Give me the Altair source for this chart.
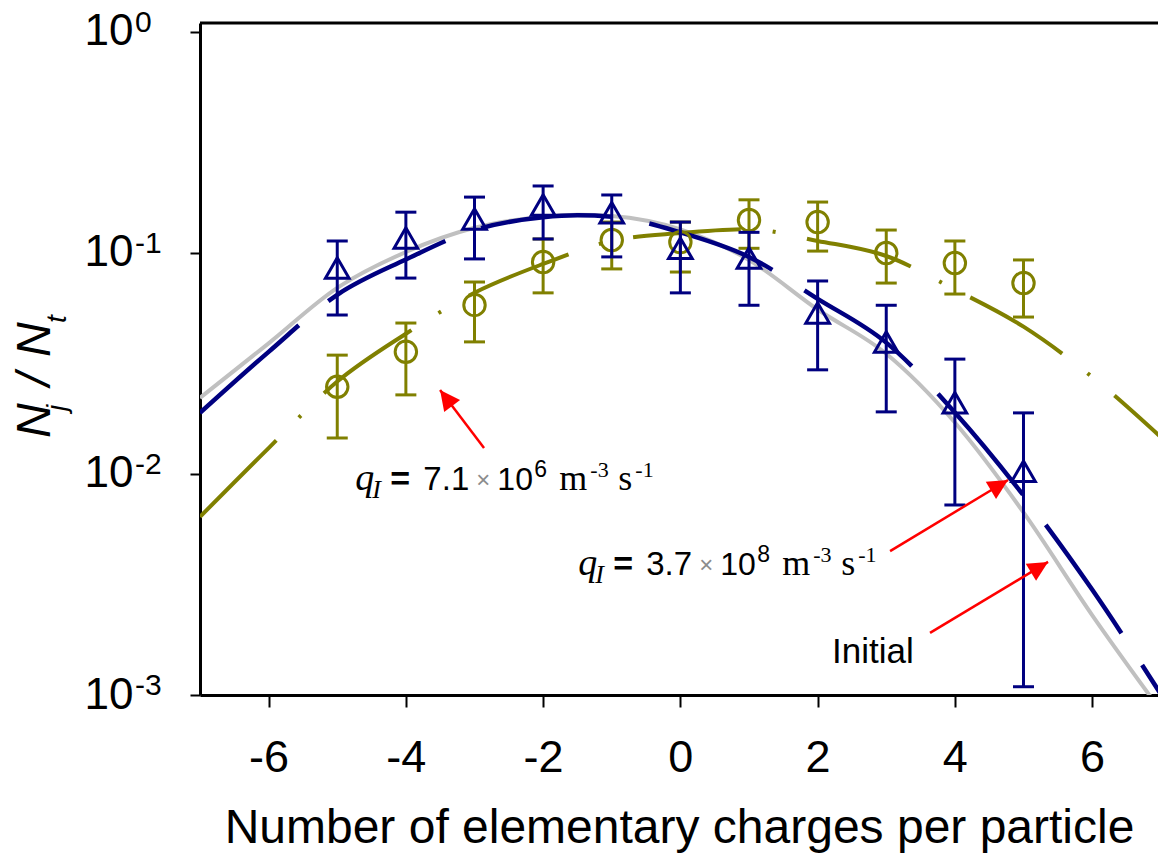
import altair as alt
import pandas as pd

# ---------------- data ----------------
charges = [-5, -4, -3, -2, -1, 0, 1, 2, 3, 4, 5]

# q_I = 3.7e8 (navy triangles)
high_val = [0.0855, 0.117, 0.1425, 0.165, 0.152, 0.105, 0.095, 0.0535, 0.0396, 0.0210, 0.0103]
high_hi = [0.1133, 0.153, 0.179, 0.201, 0.183, 0.138, 0.124, 0.0747, 0.058, 0.0331, 0.0189]
high_lo = [0.0524, 0.077, 0.094, 0.1157, 0.096, 0.066, 0.058, 0.0296, 0.0191, 0.00724, 0.00109]

# q_I = 7.1e6 (olive circles)
low_val = [0.0248, 0.0357, 0.0582, 0.091, 0.1145, 0.112, 0.141, 0.138, 0.100, 0.090, 0.0731]
low_hi = [0.0345, 0.0482, 0.0739, 0.1157, 0.138, 0.138, 0.174, 0.170, 0.127, 0.1133, 0.093]
low_lo = [0.01455, 0.0228, 0.0396, 0.066, 0.0847, 0.082, 0.105, 0.102, 0.0731, 0.0652, 0.0513]

# fitted curves
curve_x = [-7, -6, -5, -4, -3, -2, -1.5, -1, 0, 1, 2, 3, 4, 5, 6, 7]
initial_curve = [0.0221, 0.0390, 0.0695, 0.101, 0.130, 0.146, 0.149, 0.147, 0.128,
                 0.093, 0.0555, 0.0350, 0.0171, 0.0067, 0.0023, 0.00085]
high_curve = [0.0189, 0.0357, 0.0647, 0.0934, 0.127, 0.145, 0.148, 0.146, 0.124,
              0.096, 0.0620, 0.0393, 0.0190, 0.0080, 0.0030, 0.00101]
olive_x = [-7, -6, -5, -4, -3, -2, -1, 0, 1, 2, 3, 4, 5, 6, 7]
low_curve = [0.0064, 0.0131, 0.0262, 0.0431, 0.0661, 0.0892, 0.1135, 0.123, 0.128,
             0.1134, 0.0969, 0.0683, 0.0464, 0.0275, 0.0147]

x_ticks = [-6, -4, -2, 0, 2, 4, 6]
y_ticks = [0.001, 0.01, 0.1, 1]
y_exps = ["-3", "-2", "-1", "0"]

x_title = "Number of elementary charges per particle"

# annotation anchors (data coordinates)
label_x = [-4.736, -1.489]
label_y = [0.008466, 0.00349]
label_mant = ["7.1", "3.7"]
label_exp = ["6", "8"]
initial_x = [2.211]
initial_y = [0.001396]
initial_text = ["Initial"]
arrow_x = [-2.861, 3.056, 3.638]
arrow_y = [0.01312, 0.00448, 0.00191]
arrow_tip_x = [-3.502, 4.775, 5.358]
arrow_tip_y = [0.02399, 0.00939, 0.0040]
arrow_angle = [322.8, 59.0, 59.0]

# ---------------- styling ----------------
NAVY = "#000080"
OLIVE = "#808000"
GREY = "#c0c0c0"
RED = "#ff0000"
SANS = "Liberation Sans"
SERIF = "Liberation Serif"
W, H = 958, 672

xs = alt.Scale(domain=[-7, 6.96], nice=False, zero=False)
ys = alt.Scale(type="log", domain=[0.001, 1.098], nice=False)

x_axis = alt.Axis(
    values=x_ticks, labelExpr="'' + datum.value", grid=False,
    tickSize=12, tickWidth=2, tickColor="black",
    domainColor="black", domainWidth=3,
    labelPadding=28, labelFontSize=45, labelFont=SANS, labelColor="black",
    labelFlush=False,
    title=x_title, titleFont=SANS, titleFontSize=48, titleFontWeight="normal",
    titleColor="black", titleY=147, titleBaseline="alphabetic",
)
y_axis = alt.Axis(
    values=y_ticks, labelExpr="'10'", grid=False,
    tickSize=10, tickWidth=2, tickColor="black",
    domainColor="black", domainWidth=3,
    labelPadding=57, labelFontSize=44, labelFont=SANS, labelColor="black",
    labelFlush=False, title=None,
)


def X(f):
    return alt.X(f"{f}:Q", scale=xs, axis=x_axis)


def Y(f):
    return alt.Y(f"{f}:Q", scale=ys, axis=y_axis)


df_high = pd.DataFrame({"x": charges, "y": high_val, "hi": high_hi, "lo": high_lo})
df_low = pd.DataFrame({"x": charges, "y": low_val, "hi": low_hi, "lo": low_lo})
df_init = pd.DataFrame({"x": curve_x, "y": initial_curve})
df_hc = pd.DataFrame({"x": curve_x, "y": high_curve})
df_lc = pd.DataFrame({"x": olive_x, "y": low_curve})
df_exp = pd.DataFrame({"y": y_ticks, "e": y_exps})
df_lab = pd.DataFrame({"x": label_x, "y": label_y, "mant": label_mant, "exp": label_exp})
df_initial = pd.DataFrame({"x": initial_x, "y": initial_y, "t": initial_text})
df_arrow = pd.DataFrame({"x": arrow_x, "y": arrow_y, "x2": arrow_tip_x, "y2": arrow_tip_y,
                         "tx": arrow_tip_x, "ty": arrow_tip_y, "ang": arrow_angle})
df_one = pd.DataFrame({"a": [0]})

layers = []

# curves
layers.append(alt.Chart(df_init).mark_line(color=GREY, strokeWidth=4, clip=True,
                                           interpolate="monotone").encode(x=X("x"), y=Y("y")))
layers.append(alt.Chart(df_lc).mark_line(color=OLIVE, strokeWidth=4, clip=True,
                                         interpolate="monotone", strokeDash=[108, 32, 3, 32]
                                         ).encode(x=X("x"), y=Y("y")))
layers.append(alt.Chart(df_hc).mark_line(color=NAVY, strokeWidth=4.5, clip=True,
                                         interpolate="monotone", strokeDash=[132, 38]
                                         ).encode(x=X("x"), y=Y("y")))

# error bars + markers
for df, col, shape, size in [(df_low, OLIVE, "circle", 460), (df_high, NAVY, "triangle-up", 560)]:
    layers.append(alt.Chart(df).mark_rule(color=col, strokeWidth=3).encode(
        x=X("x"), y=Y("lo"), y2="hi:Q"))
    for f in ["hi", "lo"]:
        layers.append(alt.Chart(df).mark_tick(color=col, orient="horizontal", size=21,
                                              thickness=3, opacity=1).encode(x=X("x"), y=Y(f)))
    layers.append(alt.Chart(df).mark_point(shape=shape, size=size, filled=False, strokeWidth=3,
                                           color=col, opacity=1).encode(x=X("x"), y=Y("y")))

# top frame line
layers.append(alt.Chart(df_one).mark_rule(color="black", strokeWidth=3).encode(
    x=alt.value(0), x2=alt.value(W), y=alt.value(0)))

# y tick exponents
layers.append(alt.Chart(df_exp).mark_text(align="left", baseline="middle", fontSize=30,
                                          font=SANS, color="black", dy=-9).encode(
    x=alt.value(-65), y=Y("y"), text="e:N"))

# y axis title pieces  N_j / N_t
for txt, size, px, py in [("N", 48, -150, 415), ("j", 28, -134, 388), ("/", 48, -150, 363),
                          ("N", 48, -150, 334), ("t", 28, -134, 300)]:
    layers.append(alt.Chart(df_one).mark_text(
        align="left", baseline="alphabetic", angle=270, fontSize=size, font=SANS,
        fontStyle="italic", color="black").encode(
        x=alt.value(px), y=alt.value(py), text=alt.value(txt)))

# arrows
layers.append(alt.Chart(df_arrow).mark_rule(color=RED, strokeWidth=2.5).encode(
    x=X("x"), y=Y("y"), x2="x2:Q", y2="y2:Q"))
layers.append(alt.Chart(df_arrow).mark_point(
    shape="M0,0L-0.5,1L0.5,1Z", size=1600, filled=True, color=RED, opacity=1,
    strokeWidth=0).encode(x=X("tx"), y=Y("ty"), angle=alt.Angle("ang:Q", scale=None)))

# q_I labels
pieces = [
    ("q", None, SERIF, 38, "italic", "normal", 0, 0, "black"),
    ("I", None, SERIF, 26, "italic", "normal", 17, 8, "black"),
    ("=", None, SANS, 34, "normal", "bold", 35, 0, "black"),
    (None, "mant", SANS, 33, "normal", "normal", 68, 0, "black"),
    ("\u00d7", None, SANS, 24, "normal", "normal", 121, -2, "#8c8c8c"),
    ("10", None, SANS, 32, "normal", "normal", 142, 0, "black"),
    (None, "exp", SANS, 23, "normal", "normal", 179, -13, "black"),
    ("m", None, SERIF, 36, "normal", "normal", 204, 0, "black"),
    ("-3", None, SERIF, 22, "normal", "normal", 235, -13, "black"),
    ("s", None, SERIF, 36, "normal", "normal", 263, 0, "black"),
    ("-1", None, SERIF, 22, "normal", "normal", 280, -13, "black"),
]
for txt, field, font, size, style, weight, dx, dy, col in pieces:
    text_enc = alt.Text(f"{field}:N") if field else alt.value(txt)
    layers.append(alt.Chart(df_lab).mark_text(
        align="left", baseline="alphabetic", font=font, fontSize=size, fontStyle=style,
        fontWeight=weight, dx=dx, dy=dy, color=col).encode(
        x=X("x"), y=Y("y"), text=text_enc))

layers.append(alt.Chart(df_initial).mark_text(
    align="left", baseline="alphabetic", font=SANS, fontSize=35, color="black").encode(
    x=X("x"), y=Y("y"), text="t:N"))

chart = alt.layer(*layers).properties(
    width=W, height=H,
    autosize=alt.AutoSizeParams(type="none"),
    padding={"left": 200, "top": 23, "right": 0, "bottom": 159},
    background="white",
).configure_view(stroke=None)

chart.save("out.html", embed_options={"renderer": "svg", "actions": False})
